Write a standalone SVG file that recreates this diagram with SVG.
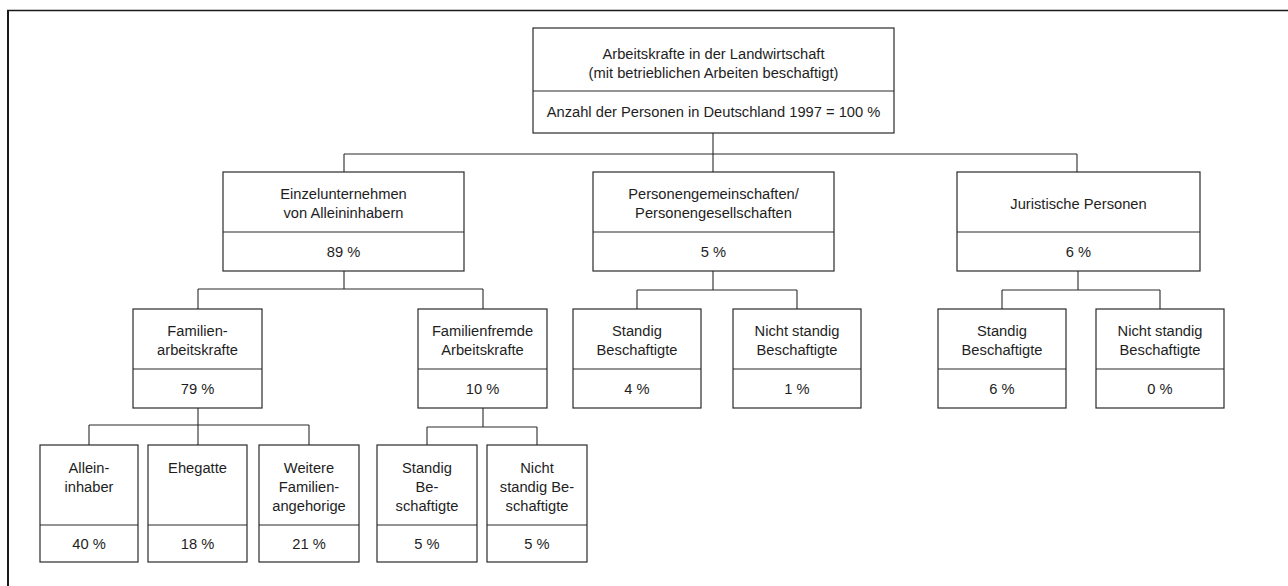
<svg xmlns="http://www.w3.org/2000/svg" width="1288" height="586" viewBox="0 0 1288 586">
  <style>
    .box { fill: #fff; stroke: #2a2a2a; stroke-width: 1.2; }
    .div { stroke: #2a2a2a; stroke-width: 1.1; }
    .lbl { font-family: "Liberation Sans", Arial, sans-serif; font-size: 14.7px; fill: #1e1e1e; text-anchor: middle; }
    .conn { fill: none; stroke: #2a2a2a; stroke-width: 1.1; }
    .frame { fill: none; stroke: #1a1a1a; }
  </style>
  <rect width="1288" height="586" fill="#fff"/>

  <!-- outer frame (top and left edges) -->
  <g id="frame">
    <path class="frame" d="M7 10.5 H1288" stroke-width="1.5"/>
    <path class="frame" d="M8 10 V586" stroke-width="2"/>
  </g>

  <!-- connectors -->
  <g id="connectors">
    <path class="conn" d="M713 133 V154 M344 154 H1077 M344 154 V172 M713 154 V172 M1077 154 V172"/>
    <path class="conn" d="M344 271 V289 M198 289 H483 M198 289 V309 M483 289 V309"/>
    <path class="conn" d="M713 271 V290 M637 290 H797 M637 290 V309 M797 290 V309"/>
    <path class="conn" d="M1078 271 V290 M1002 290 H1160 M1002 290 V309 M1160 290 V309"/>
    <path class="conn" d="M198 408 V425 M89 425 H309 M89 425 V445 M198 425 V445 M309 425 V445"/>
    <path class="conn" d="M483 408 V427 M427 427 H537 M427 427 V445 M537 427 V445"/>
  </g>

  <!-- root -->
  <g id="root">
    <rect class="box" x="533" y="28" width="361" height="105"/>
    <line class="div" x1="533" y1="91" x2="894" y2="91"/>
    <text class="lbl" x="713.5" y="58.5">Arbeitskrafte in der Landwirtschaft</text>
    <text class="lbl" x="713.5" y="77.5">(mit betrieblichen Arbeiten beschaftigt)</text>
    <text class="lbl" x="713.5" y="117">Anzahl der Personen in Deutschland 1997 = 100 %</text>
  </g>

  <!-- level 1 -->
  <g id="einzelunternehmen">
    <rect class="box" x="223" y="172" width="241" height="99"/>
    <line class="div" x1="223" y1="232" x2="464" y2="232"/>
    <text class="lbl" x="343.5" y="198.5">Einzelunternehmen</text>
    <text class="lbl" x="343.5" y="217.5">von Alleininhabern</text>
    <text class="lbl" x="343.5" y="256.5">89 %</text>
  </g>
  <g id="personengemeinschaften">
    <rect class="box" x="593" y="172" width="241" height="99"/>
    <line class="div" x1="593" y1="232" x2="834" y2="232"/>
    <text class="lbl" x="713.5" y="198.5">Personengemeinschaften/</text>
    <text class="lbl" x="713.5" y="217.5">Personengesellschaften</text>
    <text class="lbl" x="713.5" y="256.5">5 %</text>
  </g>
  <g id="juristische">
    <rect class="box" x="957" y="172" width="243" height="99"/>
    <line class="div" x1="957" y1="232" x2="1200" y2="232"/>
    <text class="lbl" x="1078.5" y="208.5">Juristische Personen</text>
    <text class="lbl" x="1078.5" y="256.5">6 %</text>
  </g>

  <!-- level 2 -->
  <g id="familienarbeitskraefte">
    <rect class="box" x="133" y="309" width="129" height="99"/>
    <line class="div" x1="133" y1="369" x2="262" y2="369"/>
    <text class="lbl" x="197.5" y="335.5">Familien-</text>
    <text class="lbl" x="197.5" y="354.5">arbeitskrafte</text>
    <text class="lbl" x="197.5" y="393.5">79 %</text>
  </g>
  <g id="familienfremde">
    <rect class="box" x="418" y="309" width="129" height="99"/>
    <line class="div" x1="418" y1="369" x2="547" y2="369"/>
    <text class="lbl" x="482.5" y="335.5">Familienfremde</text>
    <text class="lbl" x="482.5" y="354.5">Arbeitskrafte</text>
    <text class="lbl" x="482.5" y="393.5">10 %</text>
  </g>
  <g id="pg-staendig">
    <rect class="box" x="573" y="309" width="128" height="99"/>
    <line class="div" x1="573" y1="369" x2="701" y2="369"/>
    <text class="lbl" x="637" y="335.5">Standig</text>
    <text class="lbl" x="637" y="354.5">Beschaftigte</text>
    <text class="lbl" x="637" y="393.5">4 %</text>
  </g>
  <g id="pg-nicht-staendig">
    <rect class="box" x="733" y="309" width="128" height="99"/>
    <line class="div" x1="733" y1="369" x2="861" y2="369"/>
    <text class="lbl" x="797" y="335.5">Nicht standig</text>
    <text class="lbl" x="797" y="354.5">Beschaftigte</text>
    <text class="lbl" x="797" y="393.5">1 %</text>
  </g>
  <g id="jp-staendig">
    <rect class="box" x="938" y="309" width="128" height="99"/>
    <line class="div" x1="938" y1="369" x2="1066" y2="369"/>
    <text class="lbl" x="1002" y="335.5">Standig</text>
    <text class="lbl" x="1002" y="354.5">Beschaftigte</text>
    <text class="lbl" x="1002" y="393.5">6 %</text>
  </g>
  <g id="jp-nicht-staendig">
    <rect class="box" x="1096" y="309" width="128" height="99"/>
    <line class="div" x1="1096" y1="369" x2="1224" y2="369"/>
    <text class="lbl" x="1160" y="335.5">Nicht standig</text>
    <text class="lbl" x="1160" y="354.5">Beschaftigte</text>
    <text class="lbl" x="1160" y="393.5">0 %</text>
  </g>

  <!-- level 3 -->
  <g id="alleininhaber">
    <rect class="box" x="40" y="445" width="98" height="117"/>
    <line class="div" x1="40" y1="525" x2="138" y2="525"/>
    <text class="lbl" x="89" y="472.5">Allein-</text>
    <text class="lbl" x="89" y="491.5">inhaber</text>
    <text class="lbl" x="89" y="548.5">40 %</text>
  </g>
  <g id="ehegatte">
    <rect class="box" x="148" y="445" width="99" height="117"/>
    <line class="div" x1="148" y1="525" x2="247" y2="525"/>
    <text class="lbl" x="197.5" y="472.5">Ehegatte</text>
    <text class="lbl" x="197.5" y="548.5">18 %</text>
  </g>
  <g id="weitere">
    <rect class="box" x="259" y="445" width="100" height="117"/>
    <line class="div" x1="259" y1="525" x2="359" y2="525"/>
    <text class="lbl" x="309" y="472.5">Weitere</text>
    <text class="lbl" x="309" y="491.5">Familien-</text>
    <text class="lbl" x="309" y="510.5">angehorige</text>
    <text class="lbl" x="309" y="548.5">21 %</text>
  </g>
  <g id="ff-staendig">
    <rect class="box" x="377" y="445" width="100" height="117"/>
    <line class="div" x1="377" y1="525" x2="477" y2="525"/>
    <text class="lbl" x="427" y="472.5">Standig</text>
    <text class="lbl" x="427" y="491.5">Be-</text>
    <text class="lbl" x="427" y="510.5">schaftigte</text>
    <text class="lbl" x="427" y="548.5">5 %</text>
  </g>
  <g id="ff-nicht-staendig">
    <rect class="box" x="487" y="445" width="100" height="117"/>
    <line class="div" x1="487" y1="525" x2="587" y2="525"/>
    <text class="lbl" x="537" y="472.5">Nicht</text>
    <text class="lbl" x="537" y="491.5">standig Be-</text>
    <text class="lbl" x="537" y="510.5">schaftigte</text>
    <text class="lbl" x="537" y="548.5">5 %</text>
  </g>
</svg>
